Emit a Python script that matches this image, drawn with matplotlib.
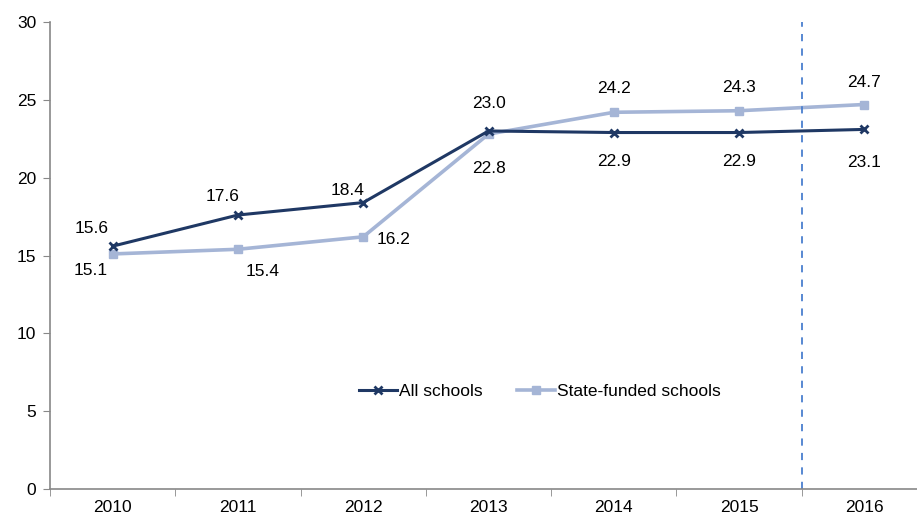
import numpy as np
import matplotlib.pyplot as plt

plt.rcParams['font.family'] = ['Liberation Sans', 'DejaVu Sans']

years = ['2010', '2011', '2012', '2013', '2014', '2015', '2016']
all_schools = [15.6, 17.6, 18.4, 23.0, 22.9, 22.9, 23.1]
state_funded = [15.1, 15.4, 16.2, 22.8, 24.2, 24.3, 24.7]

# label offsets in points
all_off = [(-15, 13), (-11, 13), (-11, 9), (0, 20), (0, -21), (0, -21), (0, -24)]
state_off = [(-16, -12), (18, -16), (22, -2), (0, -25), (0, 17), (0, 17), (0, 16)]

navy = '#1f3864'
light = '#a5b5d6'

fig = plt.figure(figsize=(9.17, 5.17), dpi=100)
ax = fig.add_axes([50/917, 28/517, 867/917, 467/517])

x = np.arange(len(years))
ax.plot(x, all_schools, color=navy, lw=2.2, marker='x', ms=6, mew=2, label='All schools', zorder=3)
ax.plot(x, state_funded, color=light, lw=2.6, marker='s', ms=6, label='State-funded schools', zorder=2)

fs = 12.5
for i in range(len(years)):
    ax.annotate(f'{all_schools[i]:.1f}', (x[i], all_schools[i]), xytext=all_off[i],
                textcoords='offset points', ha='center', va='center', fontsize=fs)
    ax.annotate(f'{state_funded[i]:.1f}', (x[i], state_funded[i]), xytext=state_off[i],
                textcoords='offset points', ha='center', va='center', fontsize=fs)

ax.axvline(5.5, color='#4a7fcf', lw=1.3, ls=(0, (4, 4)))

ax.set_ylim(0, 30)
ax.set_yticks(range(0, 31, 5))
ax.set_xlim(-0.5, 6.42)
ax.set_xticks(x)
ax.set_xticklabels(years)
ax.set_xticks(np.arange(-0.5, 6.5, 1), minor=True)
ax.tick_params(axis='x', which='major', length=0, pad=8, labelsize=fs)
ax.tick_params(axis='x', which='minor', length=5, color='#888888')
ax.tick_params(axis='y', length=5, color='#888888', labelsize=fs, pad=5)

for s in ['top', 'right']:
    ax.spines[s].set_visible(False)
for s in ['left', 'bottom']:
    ax.spines[s].set_color('#888888')
    ax.spines[s].set_linewidth(1.2)

ax.legend(loc='center', bbox_to_anchor=(0.565, 0.208), ncol=2, frameon=False,
          fontsize=fs, handlelength=2.2, handletextpad=0.1, columnspacing=2.0)

fig.savefig('out.png', dpi=100)
